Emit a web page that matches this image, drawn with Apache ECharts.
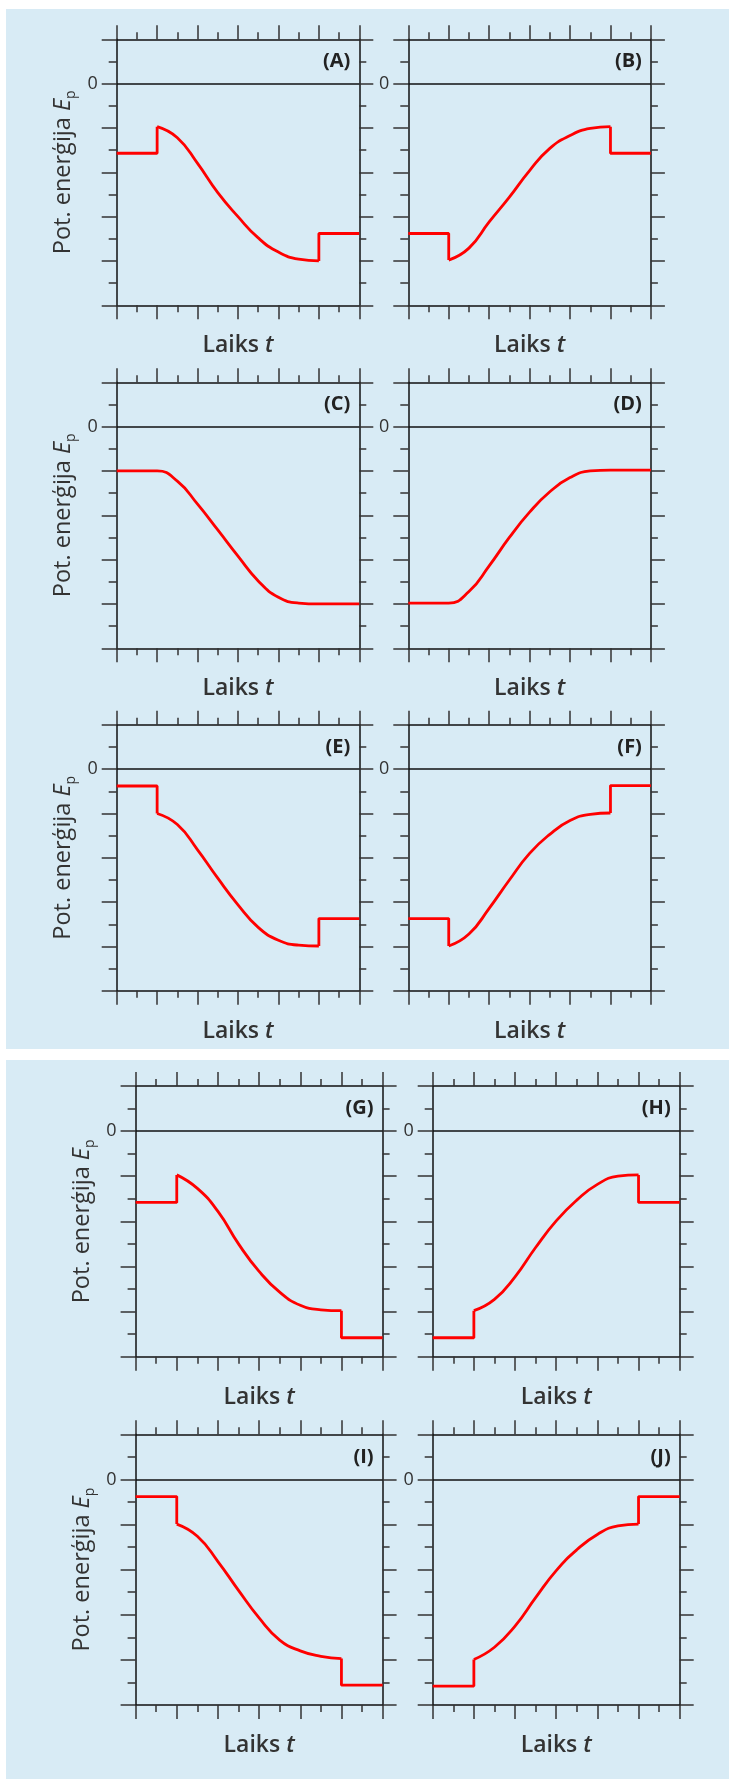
<!DOCTYPE html>
<html>
<head>
<meta charset="utf-8">
<script src="https://cdn.jsdelivr.net/npm/echarts@6/dist/echarts.min.js"></script>
<style>
  html, body { margin: 0; padding: 0; background: #fff; }
  #chart { width: 729px; height: 1779px; }
</style>
</head>
<body>
<div id="chart"></div>
<script>
// panel letters, top-left to bottom-right
const panelNames = ['A', 'B', 'C', 'D', 'E', 'F', 'G', 'H', 'I', 'J']
// only the zero tick carries a label
const labeledTicks = [0]

// flat parts and jumps (null splits the line), then the smooth part
const stepsA = [[0, -1.57], [1, -1.57], [1, -0.97], null, [5, -4.0], [5, -3.38], [6, -3.38]]
const curveA = [[1, -0.97], [1.5, -1.22], [2, -1.8], [2.5, -2.46], [3, -3.0], [3.5, -3.48], [4, -3.8], [4.5, -3.96], [5, -4.0]]

const stepsB = [[0, -3.38], [1, -3.38], [1, -3.98], null, [5, -0.97], [5, -1.57], [6, -1.57]]
const curveB = [[1, -3.98], [1.5, -3.71], [2, -3.12], [2.5, -2.56], [3, -1.96], [3.5, -1.46], [4, -1.17], [4.5, -1.01], [5, -0.97]]

const stepsC = []
const curveC = [[0, -1], [0.5, -1], [1, -1], [1.5, -1.23], [2, -1.75], [2.5, -2.33], [3, -2.92], [3.5, -3.48], [4, -3.85], [4.5, -3.98], [5, -4], [5.5, -4], [6, -4]]

const stepsD = []
const curveD = [[0, -3.98], [0.5, -3.98], [1, -3.98], [1.5, -3.72], [2, -3.14], [2.5, -2.5], [3, -1.93], [3.5, -1.47], [4, -1.15], [4.5, -1.0], [5, -0.98], [5.5, -0.98], [6, -0.98]]

const stepsE = [[0, -0.38], [1, -0.38], [1, -1.0], null, [5, -3.99], [5, -3.37], [6, -3.37]]
const curveE = [[1, -1.0], [1.5, -1.25], [2, -1.82], [2.5, -2.46], [3, -3.06], [3.5, -3.57], [4, -3.86], [4.5, -3.97], [5, -3.99]]

const stepsF = [[0, -3.37], [1, -3.37], [1, -3.99], null, [5, -0.99], [5, -0.37], [6, -0.37]]
const curveF = [[1, -3.99], [1.5, -3.72], [2, -3.14], [2.5, -2.5], [3, -1.9], [3.5, -1.47], [4, -1.16], [4.5, -1.02], [5, -0.99]]

const stepsG = [[0, -1.58], [1, -1.58], [1, -0.97], null, [5, -3.98], [5, -4.58], [6, -4.58]]
const curveG = [[1, -0.97], [1.5, -1.27], [2, -1.78], [2.5, -2.5], [3, -3.11], [3.5, -3.57], [4, -3.86], [4.5, -3.96], [5, -3.98]]

const stepsH = [[0, -4.58], [1, -4.58], [1, -3.98], null, [5, -0.97], [5, -1.58], [6, -1.58]]
const curveH = [[1, -3.98], [1.5, -3.73], [2, -3.23], [2.5, -2.58], [3, -1.99], [3.5, -1.53], [4, -1.18], [4.5, -1.0], [5, -0.97]]

const stepsI = [[0, -0.38], [1, -0.38], [1, -0.99], null, [5, -3.97], [5, -4.56], [6, -4.56]]
const curveI = [[1, -0.99], [1.5, -1.26], [2, -1.82], [2.5, -2.46], [3, -3.07], [3.5, -3.56], [4, -3.8], [4.5, -3.92], [5, -3.97]]

const stepsJ = [[0, -4.58], [1, -4.58], [1, -3.99], null, [5, -0.99], [5, -0.38], [6, -0.38]]
const curveJ = [[1, -3.99], [1.5, -3.72], [2, -3.25], [2.5, -2.62], [3, -2.02], [3.5, -1.56], [4, -1.22], [4.5, -1.03], [5, -0.99]]

const allSteps = [stepsA, stepsB, stepsC, stepsD, stepsE, stepsF, stepsG, stepsH, stepsI, stepsJ]
const allCurves = [curveA, curveB, curveC, curveD, curveE, curveF, curveG, curveH, curveI, curveJ]

// panel frames in pixels
const frameLeft = [116.7, 408.3, 116.7, 408.3, 116.7, 408.3, 135.6, 432.7, 135.6, 432.7]
const frameTop = [39.3, 39.3, 382.3, 382.3, 724.8, 724.8, 1086, 1086, 1434.3, 1434.3]
const frameW = [242.6, 242.6, 242.6, 242.6, 242.6, 242.6, 247, 247, 247, 247]
const frameH = [266, 266, 266, 266, 266, 266, 270.7, 270.7, 270.7, 270.7]

const FONT = "'Open Sans', 'Noto Sans', sans-serif"
const TEXT = '#333'
const AXIS = '#111'
const RED = '#ff0000'
const BLUE = '#d8ebf5'

const chart = echarts.init(document.getElementById('chart'), null, { renderer: 'canvas' })

const grids = []
const xAxes = []
const yAxes = []
const series = []
const graphics = [
  { type: 'rect', z: -10, shape: { x: 6, y: 9, width: 723, height: 1040 }, style: { fill: BLUE } },
  { type: 'rect', z: -10, shape: { x: 6, y: 1060, width: 723, height: 719 }, style: { fill: BLUE } },
]

function xAxis(i, pos) {
  const ax = {
    type: 'value', gridIndex: i, position: pos, min: 0, max: 6, interval: 1,
    axisLine: { show: true, onZero: false, lineStyle: { color: AXIS, width: 1.5 } },
    axisTick: { show: true, inside: false, length: 14, lineStyle: { color: TEXT, width: 1.5 } },
    minorTick: { show: true, splitNumber: 2, length: 7, lineStyle: { color: TEXT, width: 1.5 } },
    axisLabel: { show: false },
    splitLine: { show: false },
  }
  if (pos === 'bottom') {
    ax.name = '{a|Laiks }{t|t}'
    ax.nameLocation = 'middle'
    ax.nameGap = 29
    ax.nameTextStyle = {
      fontFamily: FONT, fontSize: 23, fontWeight: 600, color: TEXT,
      rich: {
        a: { fontFamily: FONT, fontSize: 23, fontWeight: 600, color: TEXT },
        t: { fontFamily: FONT, fontSize: 23, fontWeight: 600, fontStyle: 'italic', color: TEXT },
      },
    }
  }
  return ax
}

function yAxis(i, pos, withName) {
  const ax = {
    type: 'value', gridIndex: i, position: pos, min: -5, max: 1, interval: 1,
    axisLine: { show: true, onZero: false, lineStyle: { color: AXIS, width: 1.5 } },
    axisTick: { show: true, inside: false, length: pos === 'left' ? 15 : 14, lineStyle: { color: TEXT, width: 1.5 } },
    minorTick: { show: true, splitNumber: 2, length: pos === 'left' ? 8 : 7, lineStyle: { color: TEXT, width: 1.5 } },
    splitLine: { show: false },
    axisLabel: {
      show: pos === 'left', margin: 19, color: TEXT, fontFamily: FONT, fontSize: 18,
      formatter: (v) => (labeledTicks.includes(v) ? String(v) : ''),
    },
  }
  if (withName) {
    ax.name = '{a|Pot. enerģija }{e|E}{s|p}'
    ax.nameLocation = 'middle'
    ax.nameRotate = 90
    ax.nameGap = 39
    ax.nameTextStyle = {
      fontFamily: FONT, fontSize: 23.5, color: TEXT, align: 'center',
      rich: {
        a: { fontFamily: FONT, fontSize: 23.5, color: TEXT, lineHeight: 28 },
        e: { fontFamily: FONT, fontSize: 23.5, fontStyle: 'italic', color: TEXT, lineHeight: 28 },
        s: { fontFamily: FONT, fontSize: 14, color: TEXT, lineHeight: 18, verticalAlign: 'bottom' },
      },
    }
  }
  return ax
}

panelNames.forEach((name, i) => {
  grids.push({ left: frameLeft[i], top: frameTop[i], width: frameW[i], height: frameH[i], containLabel: false })
  xAxes.push(xAxis(i, 'bottom'), xAxis(i, 'top'))
  yAxes.push(yAxis(i, 'left', i % 2 === 0), yAxis(i, 'right', false))

  const line = { color: RED, width: 2.8 }
  series.push({
    type: 'line', xAxisIndex: 2 * i, yAxisIndex: 2 * i, data: allSteps[i],
    showSymbol: false, connectNulls: false, lineStyle: line, z: 3,
  })
  series.push({
    type: 'line', xAxisIndex: 2 * i, yAxisIndex: 2 * i, data: allCurves[i],
    showSymbol: false, smooth: 0.5, lineStyle: line, z: 3,
    markLine: {
      silent: true, symbol: ['none', 'none'], label: { show: false },
      lineStyle: { color: AXIS, width: 1.5, type: 'solid' },
      data: [{ yAxis: 0 }],
    },
  })

  graphics.push({
    type: 'text', z: 10,
    x: frameLeft[i] + frameW[i] - 9,
    y: frameTop[i] + frameH[i] / 12,
    style: {
      text: '(' + name + ')', align: 'right', verticalAlign: 'middle',
      font: 'bold 20px ' + FONT, fill: '#222',
    },
  })
})

chart.setOption({
  animation: false,
  backgroundColor: '#fff',
  grid: grids,
  xAxis: xAxes,
  yAxis: yAxes,
  series: series,
  graphic: graphics,
})
</script>
</body>
</html>
